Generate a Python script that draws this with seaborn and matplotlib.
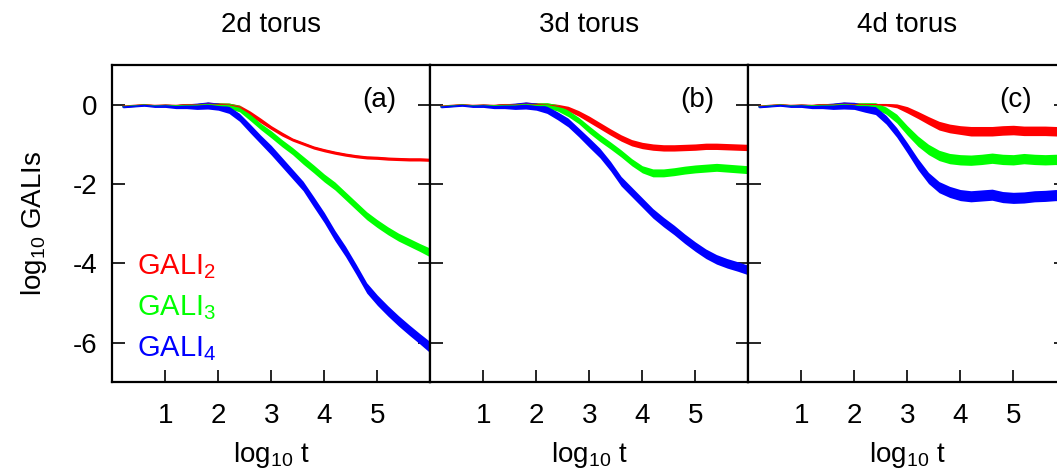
import matplotlib
matplotlib.use("Agg")
import matplotlib.pyplot as plt
import numpy as np
import pandas as pd
import seaborn as sns

# log10 t grid the curves were read on
log_t = [0.2, 0.4, 0.6, 0.8, 1.0, 1.2, 1.4, 1.6, 1.8, 2.0,
         2.2, 2.4, 2.6, 2.8, 3.0, 3.2, 3.4, 3.6, 3.8, 4.0,
         4.2, 4.4, 4.6, 4.8, 5.0, 5.2, 5.4, 5.6, 5.8, 6.0]

titles = ["2d torus", "3d torus", "4d torus"]
panel_tags = ["(a)", "(b)", "(c)"]
series_names = ["GALI$_2$", "GALI$_3$", "GALI$_4$"]
series_colors = ["#ff0000", "#00ff00", "#0000ff"]

# panel (a) - 2d torus
red_a = [-0.04, -0.02, 0.0, -0.02, -0.01, -0.02, 0.0, -0.01, 0.01, 0.0,
         -0.01, -0.06, -0.22, -0.4, -0.58, -0.74, -0.88, -0.98, -1.08, -1.15,
         -1.21, -1.26, -1.3, -1.33, -1.34, -1.36, -1.37, -1.38, -1.38, -1.39]
green_a = [-0.05, -0.03, -0.01, -0.03, -0.02, -0.03, -0.02, -0.02, 0.0, -0.02,
           -0.03, -0.1, -0.32, -0.55, -0.75, -0.97, -1.17, -1.4, -1.62, -1.85,
           -2.05, -2.3, -2.55, -2.8, -3.0, -3.18, -3.34, -3.47, -3.6, -3.73]
blue_a = [-0.06, -0.04, -0.02, -0.04, -0.03, -0.05, -0.04, -0.04, -0.02, -0.05,
          -0.13, -0.32, -0.6, -0.88, -1.15, -1.45, -1.75, -2.05, -2.45, -2.85,
          -3.3, -3.7, -4.15, -4.62, -4.93, -5.2, -5.45, -5.68, -5.9, -6.12]

# panel (b) - 3d torus
red_b = [-0.04, -0.02, 0.0, -0.02, -0.01, -0.02, 0.0, -0.01, 0.01, 0.0,
         -0.01, -0.04, -0.1, -0.22, -0.37, -0.53, -0.69, -0.84, -0.96, -1.03,
         -1.07, -1.09, -1.09, -1.08, -1.07, -1.05, -1.05, -1.06, -1.07, -1.08]
green_b = [-0.05, -0.03, -0.01, -0.03, -0.02, -0.03, -0.02, -0.02, 0.0, -0.02,
           -0.02, -0.08, -0.22, -0.4, -0.63, -0.84, -1.03, -1.23, -1.45, -1.63,
           -1.72, -1.72, -1.69, -1.65, -1.62, -1.6, -1.58, -1.6, -1.62, -1.64]
blue_b = [-0.06, -0.04, -0.02, -0.04, -0.03, -0.05, -0.04, -0.04, -0.02, -0.05,
          -0.13, -0.28, -0.45, -0.7, -0.96, -1.22, -1.55, -1.93, -2.2, -2.47,
          -2.74, -2.96, -3.16, -3.38, -3.58, -3.76, -3.9, -4.0, -4.08, -4.17]

# panel (c) - 4d torus
red_c = [-0.04, -0.02, 0.0, -0.02, -0.01, -0.02, 0.0, -0.01, 0.01, 0.0,
         0.0, 0.0, 0.0, -0.03, -0.13, -0.26, -0.4, -0.53, -0.6, -0.64,
         -0.67, -0.67, -0.67, -0.65, -0.64, -0.66, -0.66, -0.66, -0.67, -0.68]
green_c = [-0.05, -0.03, -0.01, -0.03, -0.02, -0.03, -0.02, -0.02, 0.0, -0.02,
           -0.02, -0.03, -0.15, -0.35, -0.65, -0.92, -1.13, -1.28, -1.36, -1.39,
           -1.4, -1.38, -1.35, -1.38, -1.39, -1.36, -1.38, -1.39, -1.38, -1.4]
blue_c = [-0.06, -0.04, -0.02, -0.04, -0.03, -0.05, -0.04, -0.04, -0.02, -0.03,
          -0.1, -0.15, -0.38, -0.7, -1.09, -1.5, -1.85, -2.08, -2.2, -2.28,
          -2.31, -2.29, -2.27, -2.33, -2.35, -2.34, -2.31, -2.3, -2.28, -2.3]

# half width of the noisy band around each curve
spread_red_a = [0.02, 0.02, 0.02, 0.02, 0.02, 0.02, 0.03, 0.04, 0.05, 0.05,
                0.05, 0.05, 0.06, 0.06, 0.05, 0.05, 0.04, 0.04, 0.04, 0.04,
                0.04, 0.04, 0.04, 0.04, 0.04, 0.04, 0.04, 0.04, 0.04, 0.04]
spread_green_a = [0.02, 0.02, 0.02, 0.02, 0.02, 0.03, 0.04, 0.05, 0.06, 0.06,
                  0.07, 0.08, 0.08, 0.08, 0.09, 0.09, 0.09, 0.1, 0.1, 0.1,
                  0.1, 0.1, 0.1, 0.1, 0.1, 0.1, 0.1, 0.1, 0.1, 0.11]
spread_blue_a = [0.02, 0.02, 0.02, 0.03, 0.04, 0.05, 0.06, 0.08, 0.09, 0.09,
                 0.09, 0.1, 0.11, 0.11, 0.12, 0.12, 0.12, 0.12, 0.13, 0.13,
                 0.13, 0.13, 0.13, 0.13, 0.13, 0.13, 0.13, 0.13, 0.13, 0.14]
spread_red_b = [0.02, 0.02, 0.02, 0.02, 0.02, 0.02, 0.03, 0.04, 0.05, 0.05,
                0.05, 0.05, 0.06, 0.07, 0.08, 0.08, 0.08, 0.08, 0.08, 0.08,
                0.08, 0.08, 0.08, 0.08, 0.08, 0.08, 0.08, 0.08, 0.08, 0.08]
spread_green_b = [0.02, 0.02, 0.02, 0.02, 0.02, 0.03, 0.04, 0.05, 0.06, 0.06,
                  0.07, 0.08, 0.08, 0.08, 0.09, 0.09, 0.09, 0.09, 0.09, 0.09,
                  0.1, 0.1, 0.1, 0.1, 0.1, 0.1, 0.1, 0.1, 0.1, 0.1]
spread_blue_b = [0.02, 0.02, 0.02, 0.03, 0.04, 0.05, 0.06, 0.08, 0.09, 0.09,
                 0.09, 0.1, 0.11, 0.11, 0.12, 0.12, 0.12, 0.12, 0.12, 0.12,
                 0.12, 0.12, 0.12, 0.12, 0.12, 0.12, 0.12, 0.12, 0.12, 0.12]
spread_red_c = [0.02, 0.02, 0.02, 0.02, 0.02, 0.02, 0.03, 0.04, 0.05, 0.05,
                0.04, 0.03, 0.03, 0.05, 0.08, 0.09, 0.1, 0.11, 0.11, 0.11,
                0.12, 0.12, 0.12, 0.12, 0.12, 0.12, 0.12, 0.12, 0.12, 0.12]
spread_green_c = [0.02, 0.02, 0.02, 0.02, 0.02, 0.03, 0.04, 0.05, 0.06, 0.06,
                  0.07, 0.08, 0.09, 0.11, 0.12, 0.13, 0.13, 0.13, 0.13, 0.13,
                  0.13, 0.13, 0.13, 0.13, 0.13, 0.13, 0.13, 0.13, 0.13, 0.14]
spread_blue_c = [0.02, 0.02, 0.02, 0.03, 0.04, 0.05, 0.06, 0.08, 0.09, 0.09,
                 0.09, 0.1, 0.11, 0.12, 0.13, 0.14, 0.14, 0.14, 0.14, 0.14,
                 0.14, 0.14, 0.14, 0.14, 0.14, 0.14, 0.14, 0.14, 0.14, 0.14]

panels = [
    ([red_a, green_a, blue_a], [spread_red_a, spread_green_a, spread_blue_a]),
    ([red_b, green_b, blue_b], [spread_red_b, spread_green_b, spread_blue_b]),
    ([red_c, green_c, blue_c], [spread_red_c, spread_green_c, spread_blue_c]),
]

sns.set_style("white")
plt.rcParams["font.family"] = ["Liberation Sans", "DejaVu Sans"]
plt.rcParams["mathtext.fontset"] = "custom"
plt.rcParams["mathtext.rm"] = "Liberation Sans"
plt.rcParams["mathtext.it"] = "Liberation Sans:italic"
plt.rcParams["mathtext.bf"] = "Liberation Sans:bold"
plt.rcParams["axes.unicode_minus"] = False
plt.rcParams["text.color"] = "black"
plt.rcParams["axes.labelcolor"] = "black"
plt.rcParams["xtick.color"] = "black"
plt.rcParams["ytick.color"] = "black"

FS = 20

fig = plt.figure(figsize=(10.57, 4.72), dpi=100)
ax_w, ax_h = 318 / 1057, 317.3 / 472
lefts = [112.3 / 1057, 430.3 / 1057, 748.3 / 1057]
bottom = 89.7 / 472

for i, (vals, spreads) in enumerate(panels):
    ax = fig.add_axes([lefts[i], bottom, ax_w, ax_h])
    rows = []
    for name, v, s in zip(series_names, vals, spreads):
        v = np.array(v)
        s = np.array(s)
        for t, lo, hi in zip(log_t, v - s, v + s):
            rows.append((t, lo, name))
            rows.append((t, hi, name))
    df = pd.DataFrame(rows, columns=["log_t", "gali", "series"])
    sns.lineplot(data=df, x="log_t", y="gali", hue="series",
                 hue_order=series_names, palette=series_colors,
                 estimator="mean", errorbar=("pi", 100),
                 err_kws={"alpha": 1, "linewidth": 0},
                 linewidth=1, legend=False, ax=ax)
    ax.set_xlim(0, 6)
    ax.set_ylim(-7, 1)
    ax.set_xticks([1, 2, 3, 4, 5])
    ax.set_yticks([0, -2, -4, -6])
    ax.tick_params(axis="x", direction="in", length=9, width=1.2,
                   bottom=True, top=False, labelsize=FS, pad=15)
    ax.tick_params(axis="y", direction="in", length=9, width=1.2,
                   left=True, right=True, labelsize=FS, pad=11,
                   labelleft=(i == 0))
    for sp in ax.spines.values():
        sp.set_linewidth(1.6)
        sp.set_color("black")
    ax.set_xlabel("log$_{10}$ t", fontsize=FS, labelpad=8)
    ax.set_ylabel("")
    ax.set_title(titles[i], fontsize=FS, pad=24)
    ax.text(0.84, 0.89, panel_tags[i], transform=ax.transAxes,
            ha="center", va="center", fontsize=FS)
    if i == 0:
        ax.set_ylabel("log$_{10}$ GALIs", fontsize=FS, labelpad=17)
        for k, (name, col) in enumerate(zip(series_names, series_colors)):
            ax.text(0.077, 0.341 - k * 0.129, name, color=col,
                    transform=ax.transAxes, ha="left", va="baseline",
                    fontsize=FS + 1)

fig.savefig("out.png", dpi=100)
